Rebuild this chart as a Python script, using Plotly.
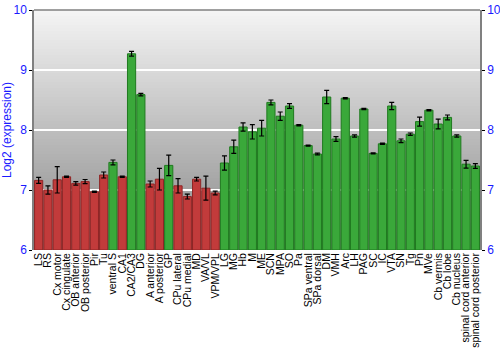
import plotly.graph_objects as go

regions = ["LS", "RS", "Cx motor", "Cx cingulate", "OB anterior", "OB posterior", "Pir", "Tu",
           "ventral S", "CA1", "CA2/CA3", "DG", "A anterior", "A posterior", "GP", "CPu lateral",
           "CPu medial", "MD", "VA/VL", "VPM/VPL", "LG", "MG", "Hb", "M", "ME", "SCN", "MPA", "SO",
           "Pa", "SPa ventral", "SPa dorsal", "DM", "VMH", "Arc", "LH", "PAG", "SC", "IC", "VTA",
           "SN", "Tg", "Pn", "MVe", "Cb vermis", "Cb lobe", "Cb nucleus", "spinal cord anterior",
           "spinal cord posterior"]

expression = [7.16, 7.00, 7.17, 7.22, 7.11, 7.14, 6.97, 7.25,
              7.46, 7.22, 9.27, 8.59, 7.10, 7.18, 7.41, 7.07,
              6.89, 7.18, 7.03, 6.95, 7.45, 7.72, 8.05, 7.97, 8.03, 8.46, 8.23, 8.40,
              8.08, 7.74, 7.60, 8.55, 7.85, 8.53, 7.90, 8.35, 7.61, 7.77, 8.40,
              7.82, 7.93, 8.14, 8.33, 8.10, 8.21, 7.90, 7.43,
              7.40]

error = [0.05, 0.07, 0.22, 0.01, 0.03, 0.035, 0.01, 0.05,
         0.04, 0.01, 0.04, 0.02, 0.05, 0.18, 0.17, 0.12,
         0.04, 0.03, 0.20, 0.03, 0.12, 0.11, 0.07, 0.12, 0.13, 0.04, 0.07, 0.04,
         0.01, 0.01, 0.015, 0.11, 0.04, 0.01, 0.02, 0.01, 0.01, 0.01, 0.06,
         0.03, 0.02, 0.075, 0.01, 0.08, 0.04, 0.02, 0.065,
         0.04]

# 'low' = red, 'high' = green
group = ["low"] * 8 + ["high", "low", "high", "high", "low", "low", "high"] + ["low"] * 5 + ["high"] * 28

fill = {"low": "#c23b3b", "high": "#3aa83a"}
edge = {"low": "#8e2525", "high": "#1f7a1f"}

fig = go.Figure()
fig.add_trace(go.Bar(
    x=regions, y=[v - 6 for v in expression], base=6,
    marker=dict(color=[fill[g] for g in group],
                line=dict(color=[edge[g] for g in group], width=1)),
    error_y=dict(type="data", array=error, color="black", thickness=1.2, width=2.5),
    hoverinfo="x+y",
))

# gradient background
shapes = []
n = 80
top = (244, 244, 244)
bot = (136, 136, 136)
for i in range(n):
    t = i / (n - 1)
    c = tuple(int(round(top[k] + (bot[k] - top[k]) * t)) for k in range(3))
    shapes.append(dict(type="rect", xref="paper", yref="paper", x0=0, x1=1,
                       y1=1 - i / n, y0=1 - (i + 1) / n, line=dict(width=0),
                       fillcolor="rgb(%d,%d,%d)" % c, layer="below"))
# top border
shapes.append(dict(type="line", xref="paper", yref="paper", x0=0, x1=1, y0=1, y1=1,
                   line=dict(color="#808080", width=1.5)))

fig.update_layout(
    width=500, height=350,
    margin=dict(l=34, r=20, t=10, b=100),
    paper_bgcolor="white", plot_bgcolor="rgba(0,0,0,0)",
    font=dict(family="Liberation Sans, Arial, sans-serif", size=12, color="black"),
    bargap=0.12, showlegend=False, shapes=shapes,
    xaxis=dict(tickangle=-90, tickfont=dict(size=10.5, color="black"), showgrid=False,
               tickmode="array", tickvals=regions, ticktext=regions,
               range=[-0.5, len(regions) - 0.5],
               ticks="", showline=False, automargin=False),
    yaxis=dict(range=[6, 10], dtick=1, tickfont=dict(size=12, color="#1a1aff"),
               title=dict(text="Log2 (expression)", font=dict(size=12, color="#1a1aff"), standoff=4),
               showgrid=True, gridcolor="white", gridwidth=1.5, zeroline=False,
               showline=True, linecolor="#808080", linewidth=1.5,
               ticks="outside", ticklen=3, tickcolor="black", automargin=False),
    yaxis2=dict(range=[6, 10], dtick=1, overlaying="y", side="right", matches="y",
                tickfont=dict(size=12, color="#1a1aff"), showgrid=False, zeroline=False,
                showline=True, linecolor="#808080", linewidth=1.5,
                ticks="outside", ticklen=3, tickcolor="black", automargin=False),
)
fig.add_trace(go.Scatter(x=[regions[0]], y=[6], yaxis="y2", mode="markers",
                         marker=dict(opacity=0), hoverinfo="skip", showlegend=False))

fig.write_html("out.html")
